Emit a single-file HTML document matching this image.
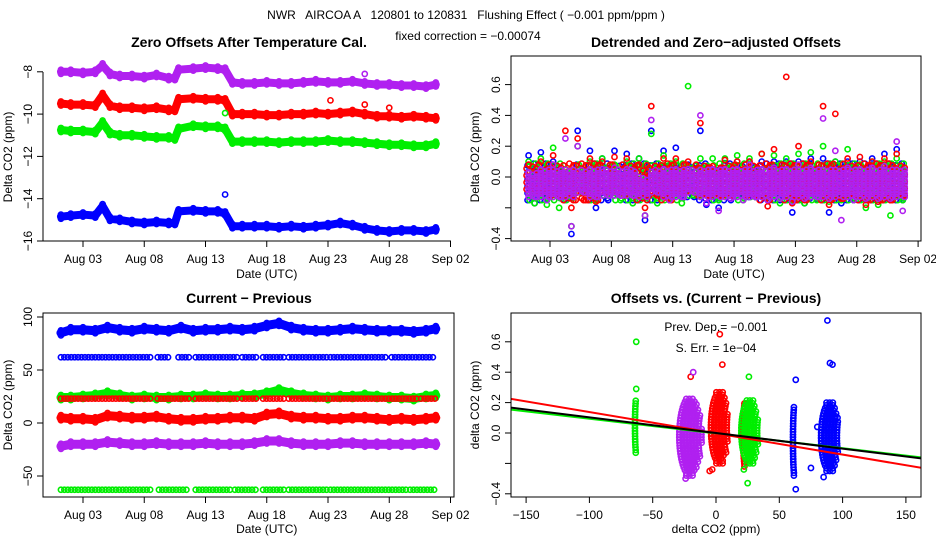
<!DOCTYPE html>
<html><head><meta charset="utf-8">
<style>
html,body{margin:0;padding:0;background:#fff;}
svg{display:block;font-family:"Liberation Sans",Arial,sans-serif;}
.t{font-size:12px;fill:#000;}
.ti{font-size:14px;font-weight:bold;fill:#000;}
</style></head>
<body>
<svg id="c" width="936" height="540" viewBox="0 0 936 540" xmlns="http://www.w3.org/2000/svg">
<text class="t" x="466" y="19" text-anchor="middle" font-size="15" xml:space="preserve">NWR   AIRCOA A   120801 to 120831   Flushing Effect ( −0.001 ppm/ppm )</text>
<text class="t" x="468" y="40" text-anchor="middle" font-size="15">fixed correction = −0.00074</text>
<text class="ti" x="249" y="47" text-anchor="middle">Zero Offsets After Temperature Cal.</text>
<text class="ti" x="716" y="47" text-anchor="middle">Detrended and Zero−adjusted Offsets</text>
<text class="ti" x="249" y="303" text-anchor="middle">Current − Previous</text>
<text class="ti" x="716" y="303" text-anchor="middle">Offsets vs. (Current − Previous)</text>
<g id="p1"></g>
<g id="p2"></g>
<g id="p3"></g>
<g id="p4"></g>
</svg>
<script>
// ---------- data ----------
const seriesColors = ["#0000ff","#00ee00","#ff0000","#b020f0"];
const dateTicks = ["Aug 03","Aug 08","Aug 13","Aug 18","Aug 23","Aug 28","Sep 02"];
const dateTickDays = [3,8,13,18,23,28,33];
// Panel 1
const p1Days = [1.2,2,3,4,4.6,5.2,6,7,8,9,10,10.5,10.8,12,13,14,14.6,15.2,16,17,18,19,20,21,22,23,24,25,26,27,28,29,30,31,31.8];
const p1Blue = [-14.85,-14.8,-14.75,-14.8,-14.35,-14.95,-15.0,-15.1,-15.15,-15.1,-15.15,-15.15,-14.6,-14.55,-14.6,-14.6,-14.7,-15.3,-15.3,-15.3,-15.3,-15.35,-15.3,-15.35,-15.3,-15.25,-15.15,-15.25,-15.4,-15.5,-15.55,-15.5,-15.5,-15.55,-15.45];
const p1Green = [-10.75,-10.8,-10.8,-10.85,-10.4,-10.9,-11.0,-11.0,-11.05,-11.1,-11.1,-11.15,-10.7,-10.55,-10.6,-10.6,-10.7,-11.3,-11.3,-11.3,-11.3,-11.35,-11.3,-11.3,-11.3,-11.25,-11.3,-11.3,-11.35,-11.4,-11.45,-11.45,-11.5,-11.5,-11.4];
const p1Red = [-9.5,-9.55,-9.55,-9.6,-9.1,-9.6,-9.7,-9.7,-9.75,-9.7,-9.8,-9.8,-9.3,-9.25,-9.3,-9.3,-9.35,-10.0,-10.0,-10.0,-10.05,-10.05,-10.0,-10.0,-9.95,-10.0,-9.95,-9.9,-10.0,-10.1,-10.1,-10.15,-10.1,-10.15,-10.2];
const p1Purple = [-8.0,-8.0,-8.05,-8.0,-7.7,-8.1,-8.2,-8.2,-8.25,-8.15,-8.3,-8.3,-7.9,-7.85,-7.8,-7.85,-7.9,-8.5,-8.55,-8.55,-8.5,-8.55,-8.55,-8.5,-8.45,-8.5,-8.5,-8.45,-8.55,-8.6,-8.6,-8.65,-8.65,-8.7,-8.6];
const p1OutDay = [14.6,14.6,23.2,26.0,28.0,26.0];
const p1OutVal = [-13.8,-9.95,-9.35,-9.55,-9.7,-8.1];
const p1OutSeries = [0,1,2,2,2,3];
const p1Ticks = [-8,-10,-12,-14,-16];
// Panel 2 (daily ranges)
const p2Days = [1.5,2.5,3.5,4.5,5.5,6.5,7.5,8.5,9.5,10.5,11.5,12.5,13.5,14.5,15.5,16.5,17.5,18.5,19.5,20.5,21.5,22.5,23.5,24.5,25.5,26.5,27.5,28.5,29.5,30.5,31.5];
const p2BlueHi = [0.14,0.16,0.1,0.0,0.3,0.17,0.12,0.17,0.15,0.12,0.3,0.17,0.19,0.08,0.3,0.05,0.09,0.1,0.1,0.1,0.1,0.1,0.1,0.12,0.12,0.1,0.1,0.1,0.12,0.15,0.18];
const p2BlueLo = [-0.17,-0.15,-0.1,-0.37,-0.1,-0.2,-0.15,-0.12,-0.15,-0.28,-0.15,-0.12,-0.12,-0.13,-0.18,-0.2,-0.15,-0.12,-0.13,-0.15,-0.15,-0.23,-0.17,-0.14,-0.23,-0.17,-0.15,-0.15,-0.16,-0.15,-0.15];
const p2GreenHi = [0.1,0.12,0.19,0.05,0.2,0.1,0.12,0.08,0.1,0.12,0.28,0.14,0.1,0.59,0.12,0.12,0.12,0.14,0.12,0.15,0.14,0.12,0.15,0.16,0.2,0.1,0.18,0.08,0.1,0.1,0.12];
const p2GreenLo = [-0.17,-0.18,-0.2,-0.32,-0.1,-0.15,-0.12,-0.15,-0.17,-0.25,-0.17,-0.15,-0.17,-0.12,-0.12,-0.15,-0.12,-0.15,-0.13,-0.13,-0.17,-0.15,-0.17,-0.15,-0.16,-0.15,-0.15,-0.2,-0.18,-0.25,-0.15];
const p2RedHi = [0.08,0.1,0.14,0.3,0.25,0.12,0.1,0.13,0.12,0.08,0.46,0.12,0.12,0.1,0.35,0.07,0.11,0.1,0.1,0.15,0.18,0.65,0.2,0.1,0.46,0.41,0.12,0.13,0.1,0.12,0.15];
const p2RedLo = [-0.08,-0.1,-0.12,-0.2,-0.15,-0.16,-0.1,-0.1,-0.12,-0.2,-0.12,-0.15,-0.1,-0.1,-0.12,-0.12,-0.12,-0.1,-0.12,-0.19,-0.1,-0.17,-0.15,-0.1,-0.18,-0.14,-0.12,-0.18,-0.16,-0.15,-0.12];
const p2PurpleHi = [0.03,0.05,0.08,0.25,0.2,0.05,0.05,0.06,0.05,0.0,0.37,0.05,0.05,0.05,0.4,0.05,0.05,0.05,0.08,0.05,0.06,0.05,0.08,0.06,0.38,0.17,0.06,0.05,0.06,0.07,0.23];
const p2PurpleLo = [-0.13,-0.15,-0.13,-0.32,-0.1,-0.13,-0.12,-0.12,-0.12,-0.25,-0.1,-0.15,-0.13,-0.1,-0.17,-0.22,-0.14,-0.15,-0.13,-0.15,-0.14,-0.16,-0.14,-0.13,-0.14,-0.28,-0.15,-0.14,-0.14,-0.14,-0.22];
const p2Ticks = [0.6,0.4,0.2,0.0,-0.2,-0.4];
const p2TickLabels = ["0.6","0.4","0.2","0.0","","−0.4"];
// Panel 3
const p3Days = [1.2,2,3,4,5,6,7,8,9,10,11,12,13,14,15,16,17,18,19,20,21,22,23,24,25,26,27,28,29,30,31,31.8];
const p3Blue = [85,88,88,87,90,88,87,89,88,87,90,87,88,88,89,88,89,92,94,90,88,87,87,88,89,88,87,87,87,86,87,89];
const p3Green = [24,24,25,26,28,26,24,25,24,24,25,25,26,25,25,26,26,28,31,28,26,25,24,25,25,26,25,24,24,23,25,26];
const p3Red = [5,4,4,3,7,6,5,5,6,4,3,3,4,4,5,5,4,8,9,6,5,5,4,4,5,5,4,3,4,3,4,5];
const p3Purple = [-22,-20,-20,-20,-18,-19,-20,-20,-19,-20,-20,-20,-19,-20,-20,-20,-19,-17,-17,-19,-20,-20,-20,-19,-19,-20,-20,-20,-20,-20,-19,-20];
const p3RowValues = [62,23,-63];
const p3RowSeries = [0,2,1];
const p3SegRow = [0,0,0,0,0,0,0,0,0,1,1,1,1,1,1,1,1,2,2,2,2,2,2,2,2];
const p3SegStart = [1.2,9.1,10.8,12.2,16.0,17.7,19.8,23.2,28.2,1.2,9.1,12.2,16.0,17.7,19.8,23.2,30.6,1.2,9.2,12.2,15.4,17.7,19.8,23.2,29.7];
const p3SegEnd = [8.5,10.2,11.8,15.7,17.3,19.4,22.9,27.8,31.8,8.5,11.8,15.7,17.3,19.4,22.9,30.3,31.8,8.6,11.6,15.0,17.3,19.4,22.9,29.4,31.8];
const p3Ticks = [100,50,0,-50];
const p3TickLabels = ["100","50","0","−50"];
// Panel 4
const clusterX = [-63,-20,3,23,27,62,90];
const clusterHalfW = [1,9,7,1.5,7,1.2,7];
const clusterYLo = [-0.13,-0.28,-0.2,-0.22,-0.2,-0.28,-0.25];
const clusterYHi = [0.22,0.24,0.27,0.2,0.22,0.18,0.2];
const clusterSeries = [1,3,2,2,1,0,0];
const p4OutX = [-63,-63,3,5,-20,-18,-24,88,90,92,63,63,26,25,-5,-3,85,75,22,80,96];
const p4OutY = [0.6,0.29,0.65,0.45,0.37,0.4,-0.3,0.74,0.46,0.45,0.35,-0.37,0.37,-0.33,-0.25,-0.24,-0.29,-0.23,-0.24,0.04,0.1];
const p4OutSeries = [1,1,2,2,2,3,3,0,0,0,0,0,1,1,2,2,0,0,1,0,0];
const fitSlope = [-0.00103,-0.00097,-0.0014];
const fitIntercept = [0.0,-0.003,-0.002];
const fitColor = ["#000000","#00ee00","#ff0000"];
const p4Ticks = [-150,-100,-50,0,50,100,150];
const p4TickLabels = ["−150","−100","−50","0","50","100","150"];
const p4YTicks = [0.6,0.4,0.2,0.0,-0.2,-0.4];

// ---------- helpers ----------
const NS="http://www.w3.org/2000/svg";
function mk(parent,tag,attrs){const e=document.createElementNS(NS,tag);for(const k in attrs)e.setAttribute(k,attrs[k]);parent.appendChild(e);return e;}
function txt(parent,x,y,s,anchor,rot){const e=mk(parent,"text",{x:x,y:y,"text-anchor":anchor||"middle",class:"t"});if(rot)e.setAttribute("transform","rotate(-90 "+x+" "+y+")");e.textContent=s;return e;}
function dot(g,x,y,c){const e=mk(g,"circle",{cx:x,cy:y,r:2.6,fill:"none",stroke:c,"stroke-width":1.6});


return e;}

const p1x=d=>58.5+(d-1)*12.25, p1y=v=>241-(v+16)*21.15;
const p2x=d=>550+(d-3)*12.27, p2y=v=>177-v*154;
const p3x=p1x, p3y=v=>423-v*1.06;
const p4x=v=>716+v*1.266, p4y=v=>433-v*152;

function dateAxis(g,sx,yAxis,yLab,yTitle){
  dateTickDays.forEach((d,i)=>{const x=sx(d);mk(g,"line",{x1:x,y1:yAxis,x2:x,y2:yAxis+6,stroke:"#000"});
    const t=txt(g,x,yLab,dateTicks[i]);});
  const t=txt(g,sx(18),yTitle,"Date (UTC)");
}
function yAxis(g,x,sy,ticks,labels,titleX,titleY,title){
  ticks.forEach((v,i)=>{const y=sy(v);mk(g,"line",{x1:x,y1:y,x2:x-6,y2:y,stroke:"#000"});
    if(labels[i]!==""){const t=txt(g,x-11,y,labels[i],"middle",true);}});
  const t=txt(g,titleX,titleY,title,"middle",true);
}
function band(g,days,vals,sx,sy,c,w){
  const pts=days.map((d,i)=>sx(d)+","+sy(vals[i])).join(" ");
  const pl=mk(g,"polyline",{points:pts,fill:"none",stroke:c,"stroke-width":w,"stroke-linejoin":"round","stroke-linecap":"round"});
  
  
  days.forEach((d,i)=>{dot(g,sx(d),sy(vals[i])-w/2+2,c);dot(g,sx(d),sy(vals[i])+w/2-2,c);});
}

// ---------- panel 1 ----------
{const g=document.getElementById("p1");
 mk(g,"polyline",{points:"43,72 43,241 451,241",fill:"none",stroke:"#000"});
 yAxis(g,43,p1y,p1Ticks,["−8","−10","−12","−14","−16"],12,157,"Delta CO2 (ppm)");
 dateAxis(g,p1x,241,263,278);
 [p1Blue,p1Green,p1Red,p1Purple].forEach((s,k)=>band(g,p1Days,s,p1x,p1y,seriesColors[k],8));
 p1OutDay.forEach((d,i)=>dot(g,p1x(d),p1y(p1OutVal[i]),seriesColors[p1OutSeries[i]]));
}
// ---------- panel 2 ----------
{const g=document.getElementById("p2");
 mk(g,"rect",{x:511,y:56,width:410,height:185,fill:"none",stroke:"#000"});
 yAxis(g,511,p2y,p2Ticks,p2TickLabels,479,157,"Delta CO2 (ppm)");
 dateAxis(g,p2x,241,263,278);
 const his=[p2BlueHi,p2GreenHi,p2RedHi,p2PurpleHi], los=[p2BlueLo,p2GreenLo,p2RedLo,p2PurpleLo];
 const xoff=[[-4,2],[-2,4],[-5,1,5],[-3,1,5]];
 for(let k=0;k<4;k++){
   const c=seriesColors[k];
   p2Days.forEach((d,i)=>{
     const hi=his[k][i], lo=los[k][i];
     const inHi=Math.min(hi,k===3?0.05:0.09), inLo=Math.max(lo,k===3?-0.13:-0.15);
     xoff[k].forEach((o,j)=>{
       for(let y=inLo+(j%2)*0.012; y<=inHi; y+=(k===3?0.022:0.045)) dot(g,p2x(d)+o,p2y(y),c);
     });
     dot(g,p2x(d)-3,p2y(hi),c);dot(g,p2x(d)+3,p2y(lo),c);
   });
 }
}
// ---------- panel 3 ----------
{const g=document.getElementById("p3");
 mk(g,"rect",{x:43,y:313,width:411,height:184,fill:"none",stroke:"#000"});
 yAxis(g,43,p3y,p3Ticks,p3TickLabels,12,405,"Delta CO2 (ppm)");
 dateAxis(g,p3x,497,519,533);
 band(g,p3Days,p3Blue,p3x,p3y,seriesColors[0],9);
 band(g,p3Days,p3Green,p3x,p3y,seriesColors[1],9);
 p3SegRow.forEach((r,si)=>{
   for(let d=p3SegStart[si]; d<=p3SegEnd[si]; d+=0.28){dot(g,p3x(d),p3y(p3RowValues[r]),seriesColors[p3RowSeries[r]]);}
 });
 band(g,p3Days,p3Red,p3x,p3y,seriesColors[2],9);
 band(g,p3Days,p3Purple,p3x,p3y,seriesColors[3],9);
}
// ---------- panel 4 ----------
{const g=document.getElementById("p4");
 yAxis(g,511,p4y,p4YTicks,p2TickLabels,479,405,"delta CO2 (ppm)");
 p4Ticks.forEach((v,i)=>{const x=p4x(v);mk(g,"line",{x1:x,y1:497,x2:x,y2:503,stroke:"#000"});
   const t=txt(g,x,519,p4TickLabels[i]);});
 const xt=txt(g,716,533,"delta CO2 (ppm)");
 clusterX.forEach((cx,i)=>{
   const c=seriesColors[clusterSeries[i]];
   const hw=clusterHalfW[i], yl=clusterYLo[i], yh=clusterYHi[i], ym=(yl+yh)/2, ry=(yh-yl)/2;
   for(let y=yl; y<=yh+1e-9; y+=0.018){
     const f=Math.sqrt(Math.max(0.15,1-Math.pow((y-ym)/ry,2)));
     for(let x=cx-hw*f; x<=cx+hw*f+1e-9; x+=2.5) dot(g,p4x(x),p4y(y),c);
   }
 });
 p4OutX.forEach((x,i)=>dot(g,p4x(x),p4y(p4OutY[i]),seriesColors[p4OutSeries[i]]));
 const cp=mk(g,"clipPath",{id:"cl4"});mk(cp,"rect",{x:511,y:313,width:410,height:184});
 [1,2,0].forEach(k=>{
   const l=mk(g,"line",{x1:p4x(-170),y1:p4y(fitIntercept[k]+fitSlope[k]*-170),x2:p4x(170),y2:p4y(fitIntercept[k]+fitSlope[k]*170),stroke:fitColor[k],"stroke-width":2,"clip-path":"url(#cl4)"});
   
   
 });
 mk(g,"rect",{x:511,y:313,width:410,height:184,fill:"none",stroke:"#000"});
 const a=txt(g,716,331,"Prev. Dep.=  −0.001");a.setAttribute("font-size","14");
 const b=txt(g,716,352,"S. Err. =  1e−04");b.setAttribute("font-size","14");
}
</script>
</body></html>
